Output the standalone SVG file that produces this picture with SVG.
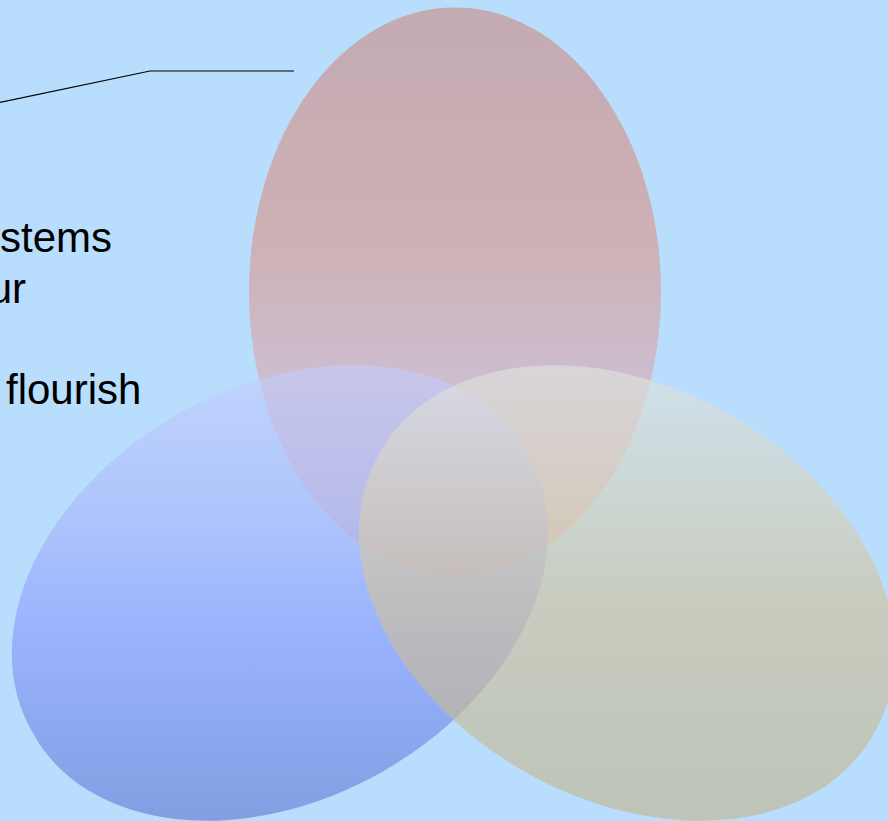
<svg xmlns="http://www.w3.org/2000/svg" width="888" height="821" viewBox="0 0 888 821">
<defs>
<style>
.lbl{font-family:"Liberation Sans",Arial,sans-serif;font-size:42px;fill:#000}
.conn{fill:none;stroke:#000;stroke-width:1.2}
.shape{fill-opacity:0.6;stroke:none}
</style>
<linearGradient id="gTop" gradientUnits="userSpaceOnUse" x1="0" y1="8" x2="0" y2="576">
<stop offset="0" stop-color="#ca8a80"/>
<stop offset="0.4" stop-color="#dc9284"/>
<stop offset="0.65" stop-color="#daa8ae"/>
<stop offset="1" stop-color="#e0bcb8"/>
</linearGradient>
<linearGradient id="gLeft" gradientUnits="userSpaceOnUse" x1="0" y1="367" x2="0" y2="820">
<stop offset="0" stop-color="#c5cefd"/>
<stop offset="0.3" stop-color="#aab7fc"/>
<stop offset="0.6" stop-color="#8495fc"/>
<stop offset="1" stop-color="#5b77d0"/>
</linearGradient>
<linearGradient id="gRight" gradientUnits="userSpaceOnUse" x1="0" y1="367" x2="0" y2="820">
<stop offset="0" stop-color="#e0e5e1"/>
<stop offset="0.5" stop-color="#d4c297"/>
<stop offset="1" stop-color="#c2b38a"/>
</linearGradient>
</defs>
<rect x="0" y="0" width="888" height="821" fill="#b8ddfd"/>
<g id="texts">
<text class="lbl" x="112" y="252" text-anchor="end">stems</text>
<text class="lbl" x="26" y="303" text-anchor="end">ur</text>
<text class="lbl" x="6" y="404">flourish</text>
</g>
<g id="connectors">
<polyline class="conn" points="0,102.3 150,71 294,71"/>
</g>
<g id="ellipse-top">
<ellipse class="shape" cx="455" cy="291.7" rx="206" ry="284.3" fill="url(#gTop)"/>
</g>
<g id="ellipse-left">
<path class="shape" d="M527.4,453.6 A284,203 -29.4 1,0 32.6,732.4 A284,203 -29.4 1,0 527.4,453.6 Z" fill="url(#gLeft)"/>
</g>
<g id="ellipse-right">
<path class="shape" d="M379.6,453.6 A284,203 29.4 1,0 874.4,732.4 A284,203 29.4 1,0 379.6,453.6 Z" fill="url(#gRight)"/>
</g>
</svg>
